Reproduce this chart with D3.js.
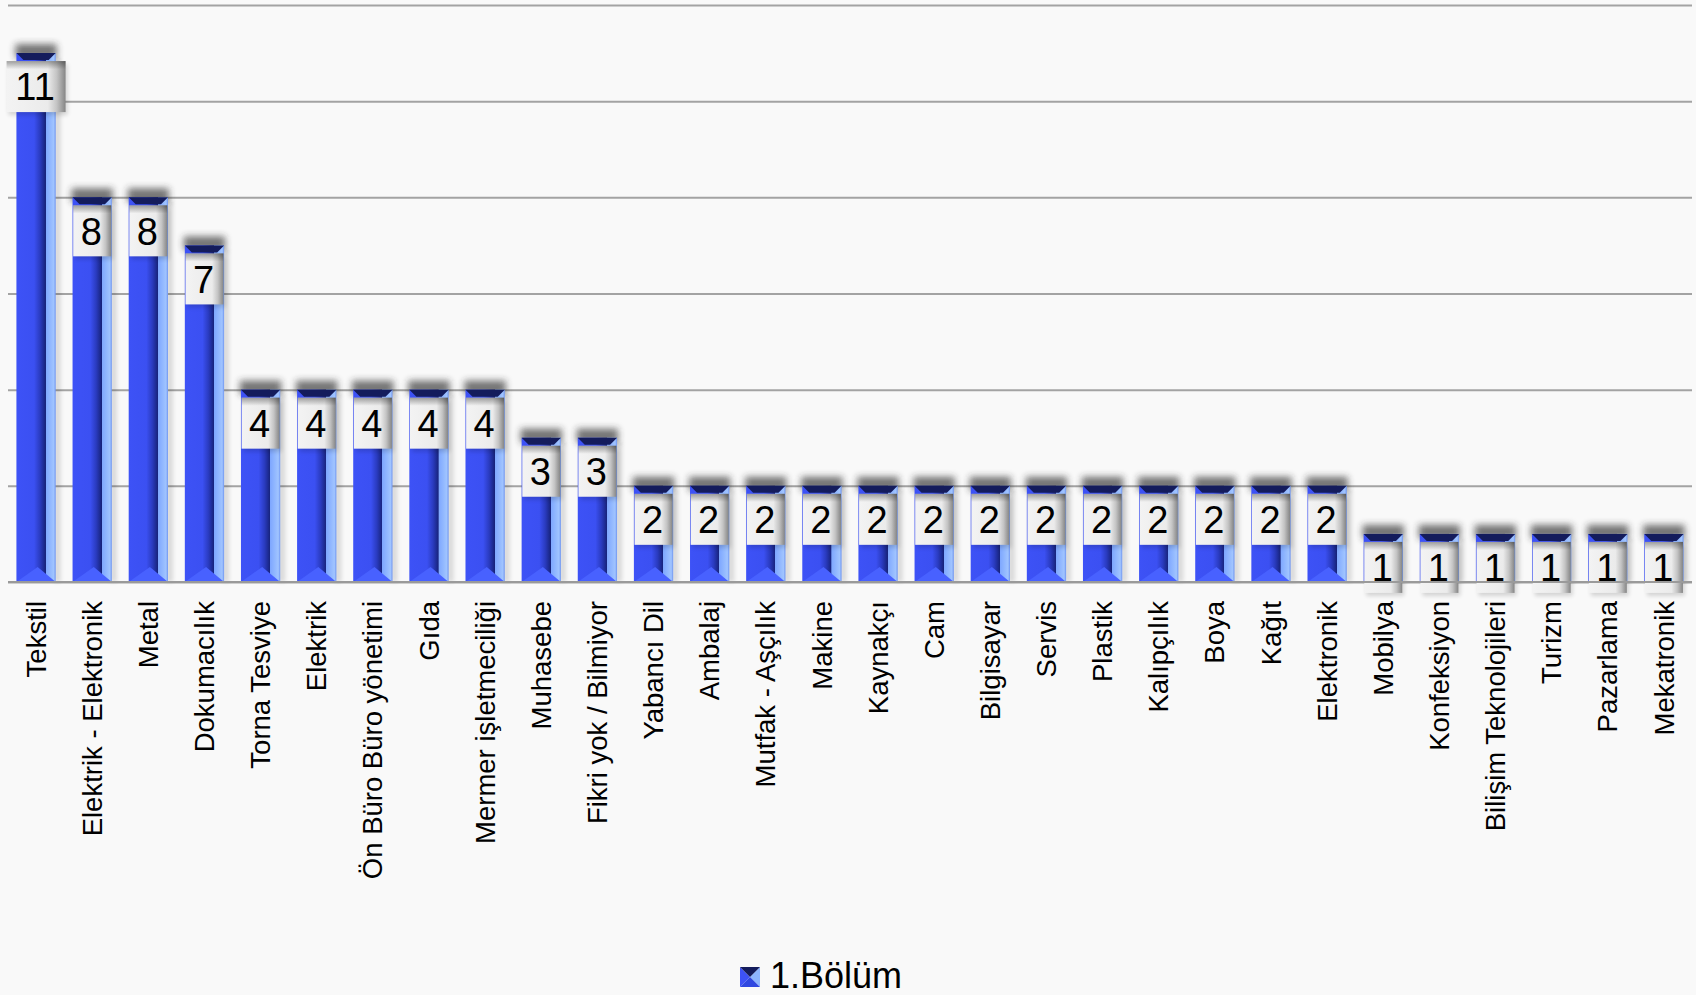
<!DOCTYPE html>
<html>
<head>
<meta charset="utf-8">
<script src="https://cdn.jsdelivr.net/npm/d3@7"></script>
<style>
  html, body { margin: 0; padding: 0; background: #f9f9f9; }
  svg { display: block; }
  text { font-family: "Liberation Sans", Arial, sans-serif; }
</style>
</head>
<body>
<svg id="chart" width="1696" height="995"></svg>
<script>
const categories = ["Tekstil", "Elektrik - Elektronik", "Metal", "Dokumacılık", "Torna Tesviye", "Elektrik",
  "Ön Büro Büro yönetimi", "Gıda", "Mermer işletmeciliği", "Muhasebe", "Fikri yok / Bilmiyor",
  "Yabancı Dil", "Ambalaj", "Mutfak - Aşçılık", "Makine", "Kaynakçı", "Cam", "Bilgisayar", "Servis",
  "Plastik", "Kalıpçılık", "Boya", "Kağıt", "Elektronik", "Mobilya", "Konfeksiyon",
  "Bilişim Teknolojileri", "Turizm", "Pazarlama", "Mekatronik"];
const values = [11, 8, 8, 7, 4, 4, 4, 4, 4, 3, 3, 2, 2, 2, 2, 2, 2, 2, 2, 2, 2, 2, 2, 2, 1, 1, 1, 1, 1, 1];
const yTicks = [0, 2, 4, 6, 8, 10, 12];
const seriesName = "1.Bölüm";

const svg = d3.select("#chart");
const W = 1696, H = 995;
svg.append("rect").attr("width", W).attr("height", H).attr("fill", "#f9f9f9");

const plotLeft = 8, plotRight = 1692, plotTop = 5, plotBottom = 582;
const x = d3.scaleBand().domain(categories).range([plotLeft, plotRight]).paddingInner(0.3).paddingOuter(0.15);
const y = d3.scaleLinear().domain([0, 12]).range([plotBottom, plotTop]);

const defs = svg.append("defs");
const blur = defs.append("filter").attr("id", "blur").attr("x", "-50%").attr("y", "-50%").attr("width", "200%").attr("height", "200%");
blur.append("feGaussianBlur").attr("stdDeviation", 3.5);
const blur2 = defs.append("filter").attr("id", "blur2").attr("x", "-50%").attr("y", "-50%").attr("width", "200%").attr("height", "200%");
blur2.append("feGaussianBlur").attr("stdDeviation", 2);

function lin(id, stops, vertical) {
  const g = defs.append("linearGradient").attr("id", id)
    .attr("x1", 0).attr("y1", 0).attr("x2", vertical ? 0 : 1).attr("y2", vertical ? 1 : 0);
  stops.forEach(s => g.append("stop").attr("offset", s[0]).attr("stop-color", s[1]).attr("stop-opacity", s[2] == null ? 1 : s[2]));
}
lin("barFace", [[0, "#3d52f6"], [0.45, "#3b50f2"], [0.6, "#2a3bc0"], [0.74, "#17237c"], [0.745, "#7ea7ff"], [0.95, "#a0c4ff"], [1, "#6f95f0"]]);
lin("boxFace", [[0, "#f3f3f3"], [0.7, "#ebebeb"], [0.85, "#c4c4c4"], [1, "#858585"]]);
lin("boxTop", [[0, "#000", 0.35], [0.16, "#000", 0]], true);

// grid lines
const gridAxis = d3.axisLeft(y).tickValues(yTicks).tickSize(-(plotRight - plotLeft)).tickFormat("");
const grid = svg.append("g").attr("transform", `translate(${plotLeft},0)`).call(gridAxis);
grid.select(".domain").remove();
grid.selectAll(".tick line").attr("stroke", "#a3a3a3").attr("stroke-width", 2);

// bars
const bars = svg.append("g").selectAll("g.bar").data(categories.map((c, i) => ({ c, v: values[i] })))
  .join("g").attr("class", "bar");
const bw = x.bandwidth();

bars.each(function (d) {
  const g = d3.select(this);
  const x0 = x(d.c), yt = y(d.v), yb = y(0);
  g.append("rect").attr("x", x0 - 1).attr("y", yt - 9).attr("width", bw + 2).attr("height", 14)
    .attr("fill", "#2a2a2a").attr("opacity", 0.65).attr("filter", "url(#blur)");
  g.append("rect").attr("x", x0 + bw - 2).attr("y", yt + 4).attr("width", 7).attr("height", yb - yt - 4)
    .attr("fill", "#000").attr("opacity", 0.12).attr("filter", "url(#blur2)");
  g.append("rect").attr("x", x0).attr("y", yt).attr("width", bw).attr("height", yb - yt).attr("fill", "url(#barFace)");
  g.append("polygon").attr("points", [[x0, yb], [x0 + bw * 0.54, yb - 15], [x0 + bw, yb]].map(p => p.join(",")).join(" "))
    .attr("fill", "#4861ff");
  g.append("polygon").attr("points", [[x0, yt], [x0 + bw, yt], [x0 + bw - 7, yt + 7], [x0 + 7, yt + 7]].map(p => p.join(",")).join(" "))
    .attr("fill", "#141c5c");
});

// baseline
svg.append("line").attr("x1", plotLeft).attr("x2", plotRight).attr("y1", plotBottom).attr("y2", plotBottom)
  .attr("stroke", "#9a9a9a").attr("stroke-width", 2);

// value labels
bars.each(function (d) {
  const g = d3.select(this);
  const cx = x(d.c) + bw / 2, yt = y(d.v);
  const txt = String(d.v);
  const bwid = txt.length * 21 + 17, bh = 51;
  const bx = cx - bwid / 2, by = yt + 8;
  g.append("rect").attr("x", bx + 2).attr("y", by + 3).attr("width", bwid).attr("height", bh)
    .attr("fill", "#000").attr("opacity", 0.15).attr("filter", "url(#blur2)");
  g.append("rect").attr("x", bx).attr("y", by).attr("width", bwid).attr("height", bh).attr("fill", "url(#boxFace)");
  g.append("rect").attr("x", bx).attr("y", by).attr("width", bwid).attr("height", bh).attr("fill", "url(#boxTop)");
  g.append("text").attr("x", cx - 1).attr("y", by + bh / 2).attr("dy", "0.36em")
    .attr("text-anchor", "middle").attr("font-size", 38).attr("fill", "#000").text(txt);
});

// x axis labels
const xAxis = d3.axisBottom(x).tickSize(0).tickPadding(0);
const xg = svg.append("g").attr("transform", `translate(0,${plotBottom})`).call(xAxis);
xg.select(".domain").remove();
xg.selectAll(".tick text")
  .attr("transform", "rotate(-90)")
  .attr("x", -19).attr("y", 0).attr("dy", "0.35em")
  .attr("text-anchor", "end")
  .attr("font-size", 27.5)
  .attr("font-family", "Liberation Sans, Arial, sans-serif")
  .attr("fill", "#000");

// legend
const lg = svg.append("g").attr("transform", "translate(740,967)");
const s = 20;
lg.append("polygon").attr("points", `0,0 ${s / 2},${s / 2} 0,${s}`).attr("fill", "#3d52f6");
lg.append("polygon").attr("points", `${s},0 ${s / 2},${s / 2} ${s},${s}`).attr("fill", "#8db5ff");
lg.append("polygon").attr("points", `0,0 ${s},0 ${s / 2},${s / 2}`).attr("fill", "#141c5c");
lg.append("polygon").attr("points", `0,${s} ${s},${s} ${s / 2},${s / 2}`).attr("fill", "#3048e0");
lg.append("text").attr("x", 30).attr("y", 21).attr("font-size", 36).attr("fill", "#000").text(seriesName);
</script>
</body>
</html>
